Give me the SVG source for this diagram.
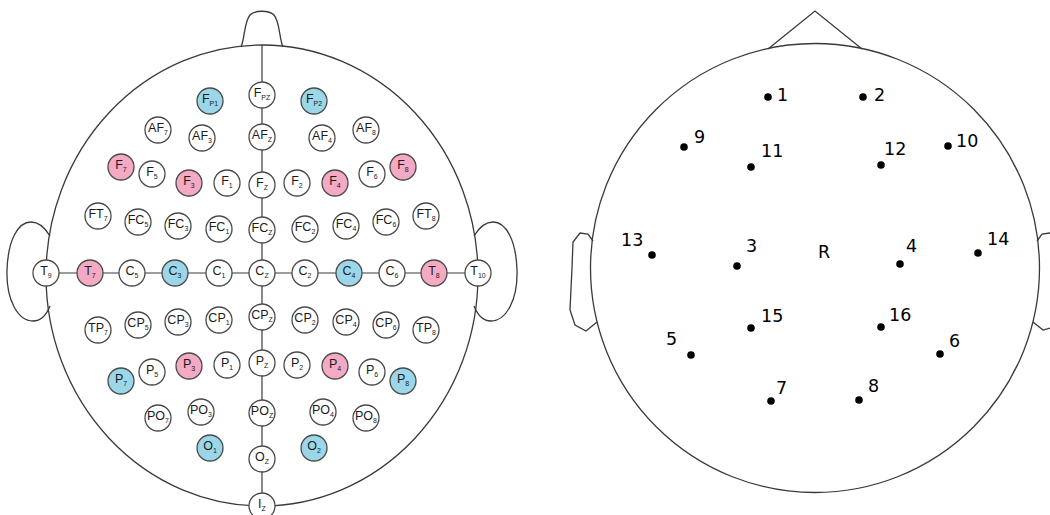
<svg xmlns="http://www.w3.org/2000/svg" width="1050" height="515" viewBox="0 0 1050 515">
  <style>
    .head { fill: none; stroke: #3a3a3a; stroke-width: 1.3; }
    .wire { fill: none; stroke: #3a3a3a; stroke-width: 1.2; }
    .el { fill: #ffffff; stroke: #4a4a4a; stroke-width: 1.3; }
    .blue { fill: #9bd7e8; }
    .pink { fill: #f4a9c4; }
    .lb { font-family: "Liberation Sans", Arial, sans-serif; font-size: 12.5px; fill: #1a1a1a; text-anchor: middle; }
    .sb { font-size: 7px; }
    .dot { fill: #000; }
    .num { font-family: "DejaVu Sans", Verdana, sans-serif; font-size: 17.5px; fill: #000; }
  </style>
  <rect width="1050" height="515" fill="#ffffff"/>

  <!-- 10-10 system head -->
  <g id="head-1010">
    <path class="head" d="M241,47 C245,38 244,22 250,15 C255,10 269,10 274,15 C280,22 279,38 283,47"/>
    <ellipse class="head" cx="262" cy="275.5" rx="216" ry="230.5"/>
    <path class="head" d="M50,236 C44,226 38,222 31,222 C18,222 8,240 7,270 C6,300 18,321 33,321 C40,321 46,316 50,306"/>
    <path class="head" d="M474,236 C480,226 486,222 493,222 C506,222 516,240 517,270 C518,300 506,321 491,321 C484,321 478,316 474,306"/>
  </g>

  <g id="connectors">
    <line class="wire" x1="262" y1="45" x2="262" y2="506"/>
    <line class="wire" x1="46" y1="273" x2="478" y2="273"/>
  </g>

  <!-- frontal pole -->
  <g id="Fp1"><circle class="el blue" cx="210" cy="101" r="13"/><text class="lb" x="210" y="103">F<tspan class="sb" dy="3">P1</tspan></text></g>
  <g id="Fpz"><circle class="el" cx="262" cy="95" r="13"/><text class="lb" x="262" y="97">F<tspan class="sb" dy="3">PZ</tspan></text></g>
  <g id="Fp2"><circle class="el blue" cx="314" cy="101" r="13"/><text class="lb" x="314" y="103">F<tspan class="sb" dy="3">P2</tspan></text></g>

  <!-- anterior frontal -->
  <g id="AF7"><circle class="el" cx="158" cy="130" r="13"/><text class="lb" x="158" y="132">AF<tspan class="sb" dy="3">7</tspan></text></g>
  <g id="AF3"><circle class="el" cx="202" cy="138" r="13"/><text class="lb" x="202" y="140">AF<tspan class="sb" dy="3">3</tspan></text></g>
  <g id="AFz"><circle class="el" cx="262" cy="137" r="13"/><text class="lb" x="262" y="139">AF<tspan class="sb" dy="3">Z</tspan></text></g>
  <g id="AF4"><circle class="el" cx="322" cy="138" r="13"/><text class="lb" x="322" y="140">AF<tspan class="sb" dy="3">4</tspan></text></g>
  <g id="AF8"><circle class="el" cx="366" cy="130" r="13"/><text class="lb" x="366" y="132">AF<tspan class="sb" dy="3">8</tspan></text></g>

  <!-- frontal -->
  <g id="F7"><circle class="el pink" cx="121" cy="167" r="13"/><text class="lb" x="121" y="169">F<tspan class="sb" dy="3">7</tspan></text></g>
  <g id="F5"><circle class="el" cx="152" cy="174" r="13"/><text class="lb" x="152" y="176">F<tspan class="sb" dy="3">5</tspan></text></g>
  <g id="F3"><circle class="el pink" cx="189" cy="183" r="13"/><text class="lb" x="189" y="185">F<tspan class="sb" dy="3">3</tspan></text></g>
  <g id="F1"><circle class="el" cx="227" cy="183" r="13"/><text class="lb" x="227" y="185">F<tspan class="sb" dy="3">1</tspan></text></g>
  <g id="Fz"><circle class="el" cx="262" cy="185" r="13"/><text class="lb" x="262" y="187">F<tspan class="sb" dy="3">Z</tspan></text></g>
  <g id="F2"><circle class="el" cx="297" cy="183" r="13"/><text class="lb" x="297" y="185">F<tspan class="sb" dy="3">2</tspan></text></g>
  <g id="F4"><circle class="el pink" cx="335" cy="183" r="13"/><text class="lb" x="335" y="185">F<tspan class="sb" dy="3">4</tspan></text></g>
  <g id="F6"><circle class="el" cx="372" cy="174" r="13"/><text class="lb" x="372" y="176">F<tspan class="sb" dy="3">6</tspan></text></g>
  <g id="F8"><circle class="el pink" cx="403" cy="167" r="13"/><text class="lb" x="403" y="169">F<tspan class="sb" dy="3">8</tspan></text></g>

  <!-- fronto-central / fronto-temporal -->
  <g id="FT7"><circle class="el" cx="98" cy="216" r="13"/><text class="lb" x="98" y="218">FT<tspan class="sb" dy="3">7</tspan></text></g>
  <g id="FC5"><circle class="el" cx="138" cy="222" r="13"/><text class="lb" x="138" y="224">FC<tspan class="sb" dy="3">5</tspan></text></g>
  <g id="FC3"><circle class="el" cx="178" cy="226" r="13"/><text class="lb" x="178" y="228">FC<tspan class="sb" dy="3">3</tspan></text></g>
  <g id="FC1"><circle class="el" cx="219" cy="229" r="13"/><text class="lb" x="219" y="231">FC<tspan class="sb" dy="3">1</tspan></text></g>
  <g id="FCz"><circle class="el" cx="262" cy="230" r="13"/><text class="lb" x="262" y="232">FC<tspan class="sb" dy="3">Z</tspan></text></g>
  <g id="FC2"><circle class="el" cx="305" cy="229" r="13"/><text class="lb" x="305" y="231">FC<tspan class="sb" dy="3">2</tspan></text></g>
  <g id="FC4"><circle class="el" cx="346" cy="226" r="13"/><text class="lb" x="346" y="228">FC<tspan class="sb" dy="3">4</tspan></text></g>
  <g id="FC6"><circle class="el" cx="386" cy="222" r="13"/><text class="lb" x="386" y="224">FC<tspan class="sb" dy="3">6</tspan></text></g>
  <g id="FT8"><circle class="el" cx="426" cy="216" r="13"/><text class="lb" x="426" y="218">FT<tspan class="sb" dy="3">8</tspan></text></g>

  <!-- central / temporal -->
  <g id="T9"><circle class="el" cx="46" cy="273" r="13"/><text class="lb" x="46" y="275">T<tspan class="sb" dy="3">9</tspan></text></g>
  <g id="T7"><circle class="el pink" cx="90" cy="273" r="13"/><text class="lb" x="90" y="275">T<tspan class="sb" dy="3">7</tspan></text></g>
  <g id="C5"><circle class="el" cx="132" cy="273" r="13"/><text class="lb" x="132" y="275">C<tspan class="sb" dy="3">5</tspan></text></g>
  <g id="C3"><circle class="el blue" cx="175" cy="273" r="13"/><text class="lb" x="175" y="275">C<tspan class="sb" dy="3">3</tspan></text></g>
  <g id="C1"><circle class="el" cx="219" cy="273" r="13"/><text class="lb" x="219" y="275">C<tspan class="sb" dy="3">1</tspan></text></g>
  <g id="Cz"><circle class="el" cx="262" cy="273" r="13"/><text class="lb" x="262" y="275">C<tspan class="sb" dy="3">Z</tspan></text></g>
  <g id="C2"><circle class="el" cx="305" cy="273" r="13"/><text class="lb" x="305" y="275">C<tspan class="sb" dy="3">2</tspan></text></g>
  <g id="C4"><circle class="el blue" cx="349" cy="273" r="13"/><text class="lb" x="349" y="275">C<tspan class="sb" dy="3">4</tspan></text></g>
  <g id="C6"><circle class="el" cx="392" cy="273" r="13"/><text class="lb" x="392" y="275">C<tspan class="sb" dy="3">6</tspan></text></g>
  <g id="T8"><circle class="el pink" cx="434" cy="273" r="13"/><text class="lb" x="434" y="275">T<tspan class="sb" dy="3">8</tspan></text></g>
  <g id="T10"><circle class="el" cx="478" cy="273" r="13"/><text class="lb" x="478" y="275">T<tspan class="sb" dy="3">10</tspan></text></g>

  <!-- centro-parietal / temporo-parietal -->
  <g id="TP7"><circle class="el" cx="98" cy="330" r="13"/><text class="lb" x="98" y="332">TP<tspan class="sb" dy="3">7</tspan></text></g>
  <g id="CP5"><circle class="el" cx="138" cy="325" r="13"/><text class="lb" x="138" y="327">CP<tspan class="sb" dy="3">5</tspan></text></g>
  <g id="CP3"><circle class="el" cx="178" cy="322" r="13"/><text class="lb" x="178" y="324">CP<tspan class="sb" dy="3">3</tspan></text></g>
  <g id="CP1"><circle class="el" cx="219" cy="320" r="13"/><text class="lb" x="219" y="322">CP<tspan class="sb" dy="3">1</tspan></text></g>
  <g id="CPz"><circle class="el" cx="262" cy="317" r="13"/><text class="lb" x="262" y="319">CP<tspan class="sb" dy="3">Z</tspan></text></g>
  <g id="CP2"><circle class="el" cx="305" cy="320" r="13"/><text class="lb" x="305" y="322">CP<tspan class="sb" dy="3">2</tspan></text></g>
  <g id="CP4"><circle class="el" cx="346" cy="322" r="13"/><text class="lb" x="346" y="324">CP<tspan class="sb" dy="3">4</tspan></text></g>
  <g id="CP6"><circle class="el" cx="386" cy="325" r="13"/><text class="lb" x="386" y="327">CP<tspan class="sb" dy="3">6</tspan></text></g>
  <g id="TP8"><circle class="el" cx="426" cy="330" r="13"/><text class="lb" x="426" y="332">TP<tspan class="sb" dy="3">8</tspan></text></g>

  <!-- parietal -->
  <g id="P7"><circle class="el blue" cx="121" cy="381" r="13"/><text class="lb" x="121" y="383">P<tspan class="sb" dy="3">7</tspan></text></g>
  <g id="P5"><circle class="el" cx="152" cy="372" r="13"/><text class="lb" x="152" y="374">P<tspan class="sb" dy="3">5</tspan></text></g>
  <g id="P3"><circle class="el pink" cx="189" cy="366" r="13"/><text class="lb" x="189" y="368">P<tspan class="sb" dy="3">3</tspan></text></g>
  <g id="P1"><circle class="el" cx="227" cy="365" r="13"/><text class="lb" x="227" y="367">P<tspan class="sb" dy="3">1</tspan></text></g>
  <g id="Pz"><circle class="el" cx="262" cy="363" r="13"/><text class="lb" x="262" y="365">P<tspan class="sb" dy="3">Z</tspan></text></g>
  <g id="P2"><circle class="el" cx="297" cy="365" r="13"/><text class="lb" x="297" y="367">P<tspan class="sb" dy="3">2</tspan></text></g>
  <g id="P4"><circle class="el pink" cx="335" cy="366" r="13"/><text class="lb" x="335" y="368">P<tspan class="sb" dy="3">4</tspan></text></g>
  <g id="P6"><circle class="el" cx="372" cy="372" r="13"/><text class="lb" x="372" y="374">P<tspan class="sb" dy="3">6</tspan></text></g>
  <g id="P8"><circle class="el blue" cx="403" cy="381" r="13"/><text class="lb" x="403" y="383">P<tspan class="sb" dy="3">8</tspan></text></g>

  <!-- parieto-occipital -->
  <g id="PO7"><circle class="el" cx="158" cy="418" r="13"/><text class="lb" x="158" y="420">PO<tspan class="sb" dy="3">7</tspan></text></g>
  <g id="PO3"><circle class="el" cx="201" cy="412" r="13"/><text class="lb" x="201" y="414">PO<tspan class="sb" dy="3">3</tspan></text></g>
  <g id="POz"><circle class="el" cx="262" cy="413" r="13"/><text class="lb" x="262" y="415">PO<tspan class="sb" dy="3">Z</tspan></text></g>
  <g id="PO4"><circle class="el" cx="323" cy="412" r="13"/><text class="lb" x="323" y="414">PO<tspan class="sb" dy="3">4</tspan></text></g>
  <g id="PO8"><circle class="el" cx="366" cy="418" r="13"/><text class="lb" x="366" y="420">PO<tspan class="sb" dy="3">8</tspan></text></g>

  <!-- occipital / inion -->
  <g id="O1"><circle class="el blue" cx="210" cy="448" r="13"/><text class="lb" x="210" y="450">O<tspan class="sb" dy="3">1</tspan></text></g>
  <g id="Oz"><circle class="el" cx="262" cy="459" r="13"/><text class="lb" x="262" y="461">O<tspan class="sb" dy="3">Z</tspan></text></g>
  <g id="O2"><circle class="el blue" cx="314" cy="448" r="13"/><text class="lb" x="314" y="450">O<tspan class="sb" dy="3">2</tspan></text></g>
  <g id="Iz"><circle class="el" cx="262" cy="506" r="13"/><text class="lb" x="262" y="508">I<tspan class="sb" dy="3">Z</tspan></text></g>

  <!-- 16-channel montage head -->
  <g id="head-16ch">
    <polyline class="head" points="768,49 815,11 862,49"/>
    <circle class="head" cx="815" cy="268" r="224.5"/>
    <path class="head" d="M593,241 L588,234 L580,233 L573,242 L572,268 L570,310 L575,325 L586,331 L597,322"/>
    <path class="head" d="M1037,241 L1042,234 L1050,233"/>
    <path class="head" d="M1033,322 L1043,330 L1050,328"/>
  </g>

  <g id="ch1"><circle class="dot" cx="768" cy="97" r="3.8"/><text class="num" x="777" y="101">1</text></g>
  <g id="ch2"><circle class="dot" cx="863" cy="97" r="3.8"/><text class="num" x="874" y="101">2</text></g>
  <g id="ch9"><circle class="dot" cx="684" cy="147" r="3.8"/><text class="num" x="694" y="143">9</text></g>
  <g id="ch11"><circle class="dot" cx="751" cy="167" r="3.8"/><text class="num" x="761" y="157">11</text></g>
  <g id="ch12"><circle class="dot" cx="881" cy="165" r="3.8"/><text class="num" x="884" y="155">12</text></g>
  <g id="ch10"><circle class="dot" cx="948" cy="146" r="3.8"/><text class="num" x="956" y="147">10</text></g>
  <g id="ch13"><circle class="dot" cx="652" cy="255" r="3.8"/><text class="num" x="621" y="246">13</text></g>
  <g id="ch3"><circle class="dot" cx="737" cy="266" r="3.8"/><text class="num" x="746" y="252">3</text></g>
  <g id="ref"><text class="num" x="818" y="258">R</text></g>
  <g id="ch4"><circle class="dot" cx="900" cy="264" r="3.8"/><text class="num" x="906" y="252">4</text></g>
  <g id="ch14"><circle class="dot" cx="978" cy="253" r="3.8"/><text class="num" x="987" y="245">14</text></g>
  <g id="ch15"><circle class="dot" cx="751" cy="328" r="3.8"/><text class="num" x="761" y="322">15</text></g>
  <g id="ch16"><circle class="dot" cx="881" cy="327" r="3.8"/><text class="num" x="889" y="321">16</text></g>
  <g id="ch5"><circle class="dot" cx="691" cy="355" r="3.8"/><text class="num" x="666" y="345">5</text></g>
  <g id="ch6"><circle class="dot" cx="940" cy="354" r="3.8"/><text class="num" x="949" y="347">6</text></g>
  <g id="ch7"><circle class="dot" cx="771" cy="401" r="3.8"/><text class="num" x="776" y="394">7</text></g>
  <g id="ch8"><circle class="dot" cx="859" cy="400" r="3.8"/><text class="num" x="868" y="392">8</text></g>
</svg>
